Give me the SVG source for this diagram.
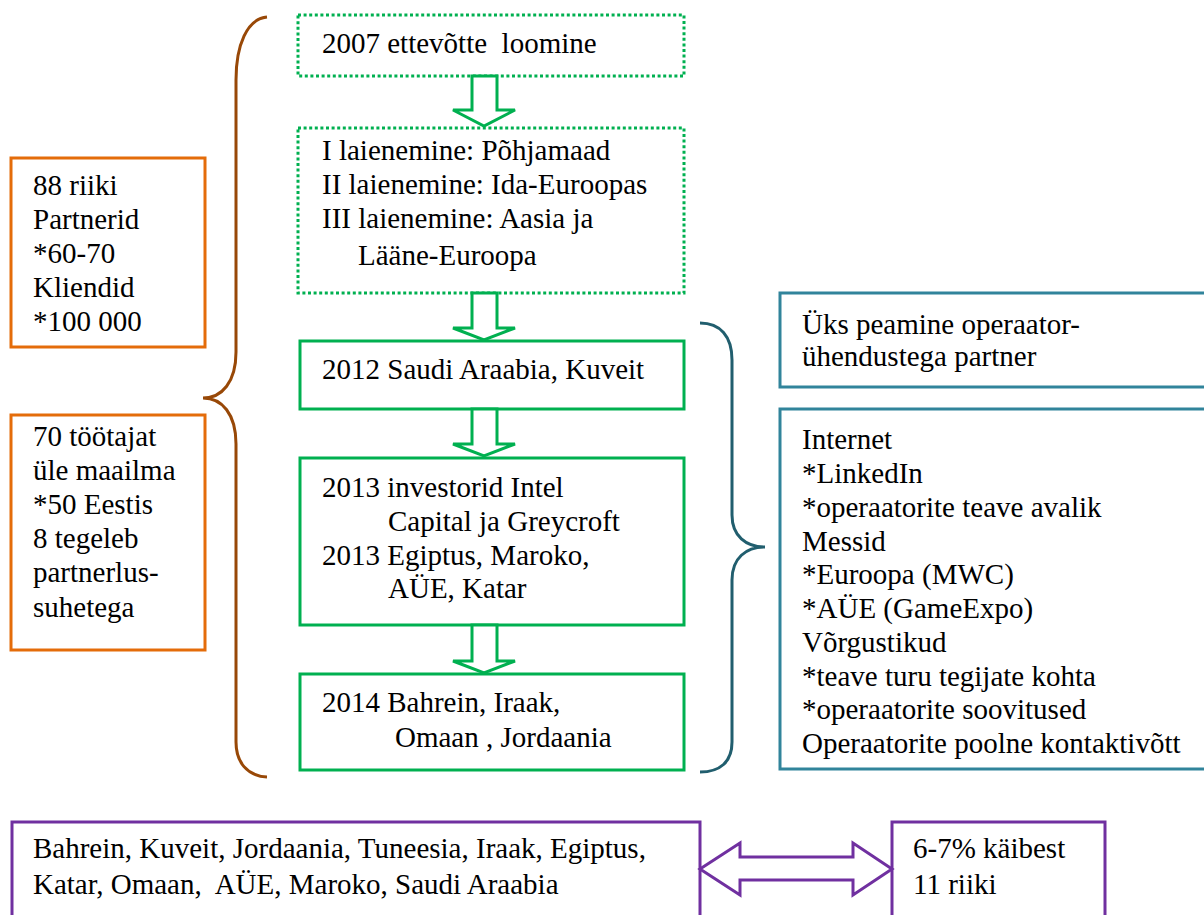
<svg xmlns="http://www.w3.org/2000/svg" width="1204" height="915" viewBox="0 0 1204 915" font-family="'Liberation Serif', 'Times New Roman', Times, 'DejaVu Serif', serif">
  <style>
    text { font-family: "Liberation Serif", "Times New Roman", Times, "DejaVu Serif", serif; font-size: 29px; fill: #000; }
    .pre { white-space: pre; }
    .green { fill: #fff; stroke: #00B050; stroke-width: 3; }
    .dotted { fill: #fff; stroke: #00B050; stroke-width: 3; stroke-dasharray: 3 2.6; }
    .orange { fill: #fff; stroke: #E46C0A; stroke-width: 3; }
    .teal { fill: #fff; stroke: #31849B; stroke-width: 3; }
    .purple { fill: #fff; stroke: #7030A0; stroke-width: 3; }
    .brace-brown { fill: none; stroke: #984807; stroke-width: 3; }
    .brace-teal { fill: none; stroke: #215E6E; stroke-width: 3; }
    .flow { fill: #fff; stroke: #00B050; stroke-width: 3; stroke-linejoin: miter; }
    .dbl { fill: #fff; stroke: #7030A0; stroke-width: 3; stroke-linejoin: miter; }
  </style>

  <rect width="1204" height="915" fill="#fff"/>

  <!-- Left side: company facts -->
  <g id="facts-reach">
    <rect class="orange" x="11" y="158" width="194" height="189"/>
    <text x="33" y="195">88 riiki</text>
    <text x="33" y="229">Partnerid</text>
    <text x="33" y="263">*60-70</text>
    <text x="33" y="297">Kliendid</text>
    <text x="33" y="331">*100 000</text>
  </g>

  <g id="facts-staff">
    <rect class="orange" x="11" y="415" width="194" height="235"/>
    <text x="33" y="446">70 töötajat</text>
    <text x="33" y="480">üle maailma</text>
    <text x="33" y="514">*50 Eestis</text>
    <text x="33" y="548">8 tegeleb</text>
    <text x="33" y="582">partnerlus-</text>
    <text x="33" y="617">suhetega</text>
  </g>

  <!-- Timeline boxes -->
  <g id="step-2007">
    <rect class="dotted" x="298" y="15" width="386" height="61"/>
    <text class="pre" x="322" y="53">2007 ettevõtte  loomine</text>
  </g>

  <g id="step-expansion">
    <rect class="dotted" x="298" y="128" width="386" height="165"/>
    <text x="322" y="160">I laienemine: Põhjamaad</text>
    <text x="322" y="194">II laienemine: Ida-Euroopas</text>
    <text x="322" y="228">III laienemine: Aasia ja</text>
    <text x="358" y="265">Lääne-Euroopa</text>
  </g>

  <g id="step-2012">
    <rect class="green" x="300" y="341" width="384" height="68"/>
    <text x="322" y="379">2012 Saudi Araabia, Kuveit</text>
  </g>

  <g id="step-2013">
    <rect class="green" x="300" y="458" width="384" height="167"/>
    <text x="322" y="497">2013 investorid Intel</text>
    <text x="388" y="531">Capital ja Greycroft</text>
    <text x="322" y="565">2013 Egiptus, Maroko,</text>
    <text x="388" y="598">AÜE, Katar</text>
  </g>

  <g id="step-2014">
    <rect class="green" x="300" y="674" width="384" height="96"/>
    <text x="322" y="712">2014 Bahrein, Iraak,</text>
    <text x="395" y="747">Omaan , Jordaania</text>
  </g>

  <!-- Right side: partner search channels -->
  <g id="partner-main">
    <rect class="teal" x="780" y="293" width="440" height="94"/>
    <text x="802" y="334">Üks peamine operaator-</text>
    <text x="802" y="366">ühendustega partner</text>
  </g>

  <g id="partner-channels">
    <rect class="teal" x="780" y="409" width="440" height="360"/>
    <text x="802" y="449">Internet</text>
    <text x="802" y="483">*LinkedIn</text>
    <text x="802" y="517">*operaatorite teave avalik</text>
    <text x="802" y="551">Messid</text>
    <text x="802" y="584">*Euroopa (MWC)</text>
    <text x="802" y="618">*AÜE (GameExpo)</text>
    <text x="802" y="652">Võrgustikud</text>
    <text x="802" y="686">*teave turu tegijate kohta</text>
    <text x="802" y="719">*operaatorite soovitused</text>
    <text x="802" y="753">Operaatorite poolne kontaktivõtt</text>
  </g>

  <!-- Bottom: target region and share of turnover -->
  <g id="region-countries">
    <rect class="purple" x="12" y="822" width="688" height="110"/>
    <text x="33" y="858">Bahrein, Kuveit, Jordaania, Tuneesia, Iraak, Egiptus,</text>
    <text class="pre" x="33" y="894">Katar, Omaan,  AÜE, Maroko, Saudi Araabia</text>
  </g>

  <g id="region-share">
    <rect class="purple" x="892" y="822" width="213" height="110"/>
    <text x="913" y="858">6-7% käibest</text>
    <text x="913" y="894">11 riiki</text>
  </g>

  <!-- Connectors: braces and block arrows -->
  <g id="connectors">
    <path class="brace-brown" d="M267,17 C247,19 236,45 236,80 L236,352 C236,382 222,398 203,398 C222,398 236,414 236,444 L236,742 C236,762 247,776 267,777"/>
    <path class="brace-teal" d="M700,323 C720,323 732,336 732,360 L732,515 C732,536 746,547 765,547 C746,547 732,558 732,580 L732,742 C732,762 720,772 700,772"/>

    <polygon class="flow" points="472,76 497,76 497,110 515,110 484,126 453,110 472,110"/>
    <polygon class="flow" points="472,293 497,293 497,328 515,328 484,340 453,328 472,328"/>
    <polygon class="flow" points="472,409 497,409 497,444 515,444 484,456 453,444 472,444"/>
    <polygon class="flow" points="472,625 497,625 497,661 515,661 484,673 453,661 472,661"/>

    <polygon class="dbl" points="700,869 740,843 740,857 853,857 853,843 892,869 853,895 853,880 740,880 740,895"/>
  </g>
</svg>
